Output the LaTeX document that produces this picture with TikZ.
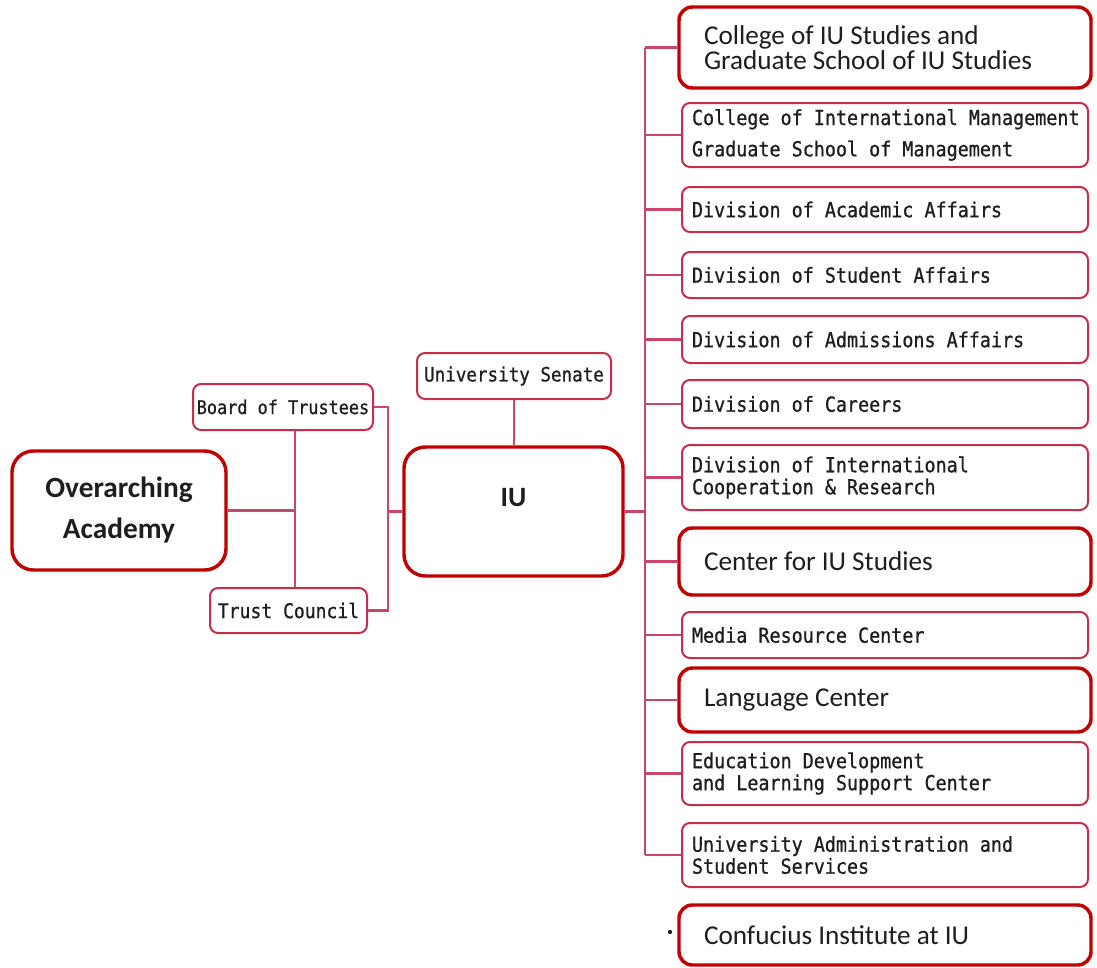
\documentclass[tikz,border=0pt]{standalone}
\usepackage{fontspec}
\setmainfont{Carlito}
\newfontfamily\gothic[FakeStretch=0.89,FakeBold=0.8]{DejaVu Sans Mono}
% monospaced text whose word spaces are as wide as one character
\newcommand\gothicsize[2]{\gothic\fontsize{#1}{#2}\selectfont\spaceskip=\fontcharwd\font`M\relax}
\definecolor{heavyred}{RGB}{192,0,0}
\definecolor{lightred}{RGB}{200,45,75}
\definecolor{linkred}{RGB}{200,70,105}
\definecolor{ink}{RGB}{30,30,30}
\begin{document}
\begin{tikzpicture}[x=0.75pt,y=-0.75pt,
  heavybox/.style={draw=heavyred, line width=2.6pt, rounded corners=10pt, fill=white,
    text=ink, inner ysep=0pt, align=flush left, font=\fontsize{20.4pt}{19pt}\selectfont},
  bigbox/.style={heavybox, rounded corners=16pt, align=center},
  lightbox/.style={draw=lightred, line width=1.5pt, rounded corners=6pt, fill=white,
    text=ink, inner ysep=0pt, align=flush left, font=\gothicsize{15.5pt}{16.5pt}},
  rightlight/.style={lightbox, inner xsep=7.5pt, text width=289.5pt},
  rightheavy/.style={heavybox, inner xsep=18.75pt, text width=271.5pt},
  link/.style={draw=linkred, line width=1.8pt}]
\useasboundingbox (0,0) rectangle (1097,968);

% left group
\node[bigbox, minimum width=160.5pt, minimum height=89.25pt,
      font=\bfseries\fontsize{22pt}{30.75pt}\selectfont] (oa) at (119,510.5) {Overarching\\Academy};
\node[lightbox, align=center, inner xsep=1pt, minimum width=135pt, minimum height=34.5pt,
      font=\gothicsize{14.2pt}{16pt}] (bot) at (283,407) {Board of Trustees};
\node[lightbox, align=center, inner xsep=1pt, minimum width=117.75pt, minimum height=33.75pt,
      font=\gothicsize{15.2pt}{16pt}] (tc) at (288.5,610.5) {Trust Council};

% centre group
\node[lightbox, align=center, inner xsep=1pt, minimum width=145.5pt, minimum height=34.5pt,
      font=\gothicsize{14.8pt}{16pt}] (us) at (514,376) {University Senate};
\node[bigbox, minimum width=164.25pt, minimum height=96.75pt] (iu) at (513.5,511.5) {};
\node[text=ink, font=\bfseries\fontsize{21pt}{24pt}\selectfont] at ([yshift=10.5pt]iu.center) {IU};

% right column
\node[rightheavy, minimum height=60.75pt] (r1) at (885,47.5) {College of IU Studies and\\Graduate School of IU Studies};
\node[rightlight, minimum height=48pt] (r2) at (885,135) {\mbox{College of International Management}\\[7pt]Graduate School of Management};
\node[rightlight, minimum height=33.75pt] (r3) at (885,209.5) {Division of Academic Affairs};
\node[rightlight, minimum height=34.5pt] (r4) at (885,275) {Division of Student Affairs};
\node[rightlight, minimum height=35.25pt] (r5) at (885,339.5) {Division of Admissions Affairs};
\node[rightlight, minimum height=36pt] (r6) at (885,404) {Division of Careers};
\node[rightlight, minimum height=48.75pt] (r7) at (885,477.5) {Division of International\\Cooperation \& Research};
\node[rightheavy, minimum height=50.25pt] (r8) at (885,561.5) {Center for IU Studies};
\node[rightlight, minimum height=34.5pt] (r9) at (885,635) {Media Resource Center};
\node[rightheavy, minimum height=48pt] (r10) at (885,700) {Language Center};
\node[rightlight, minimum height=47.25pt] (r11) at (885,773.5) {Education Development\\and Learning Support Center};
\node[rightlight, minimum height=48pt] (r12) at (885,855) {University Administration and\\Student Services};
\node[rightheavy, minimum height=45pt] (r13) at (885,935) {Confucius Institute at IU};
\fill[ink] (670,932) circle (1.6pt);

% connector columns
\coordinate (mid) at (295,0);
\coordinate (lbus) at (388,0);
\coordinate (bus) at (645,0);

\draw[link] (oa.east) -- (oa.east -| mid);
\draw[link] (bot.south -| mid) -- (tc.north -| mid);
\draw[link] (bot.east) -- (bot.east -| lbus) -- (tc.east -| lbus) -- (tc.east);
\draw[link] (iu.west -| lbus) -- (iu.west);
\draw[link] (us.south) -- (us.south |- iu.north);
\draw[link] (iu.east) -- (iu.east -| bus);
\draw[link] (r1.west -| bus) -- (r12.west -| bus);
\foreach \r in {r1,r2,r3,r4,r5,r6,r7,r8,r9,r10,r11,r12}
  \draw[link] (\r.west -| bus) -- (\r.west);
\end{tikzpicture}
\end{document}
